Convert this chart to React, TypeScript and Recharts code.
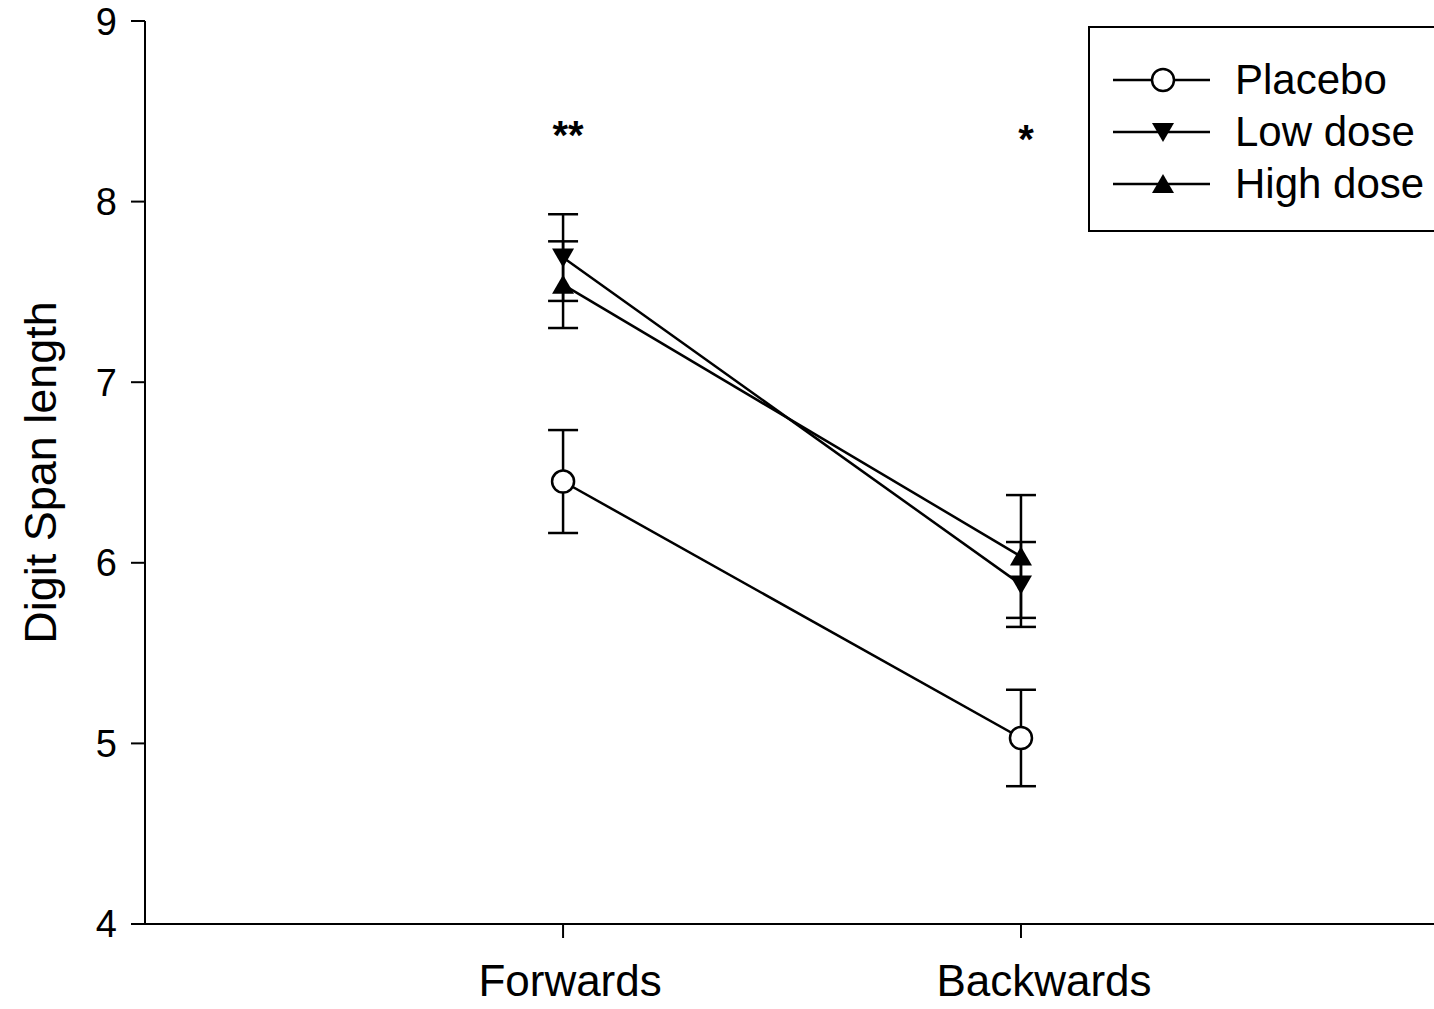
import { LineChart, Line, XAxis, YAxis, ErrorBar, ReferenceDot } from "recharts";

const conditions = ["Forwards", "Backwards"];
const placebo = [6.45, 5.03];
const placeboSem = [0.285, 0.267];
const lowDose = [7.69, 5.88];
const lowDoseSem = [0.24, 0.235];
const highDose = [7.54, 6.035];
const highDoseSem = [0.24, 0.34];
const significance = ["**", "*"];
const significanceLevel = [8.37, 8.35];
const yTicks = [4, 5, 6, 7, 8, 9];
const legendLabels = ["Placebo", "Low dose", "High dose"];

const FONT = "'Liberation Sans', Arial, Helvetica, sans-serif";

const data = conditions.map((name, i) => ({
  pos: i + 1,
  name,
  placebo: placebo[i],
  placeboSem: placeboSem[i],
  low: lowDose[i],
  lowSem: lowDoseSem[i],
  high: highDose[i],
  highSem: highDoseSem[i],
}));

// markers
function OpenCircle({ cx, cy }: any) {
  return <circle cx={cx} cy={cy} r={11} fill="#fff" stroke="#000" strokeWidth={2.5} />;
}

function TriangleDown({ cx, cy }: any) {
  return <path d={`M${cx - 11},${cy - 9} L${cx + 11},${cy - 9} L${cx},${cy + 10} Z`} fill="#000" />;
}

function TriangleUp({ cx, cy }: any) {
  return <path d={`M${cx - 11},${cy + 9} L${cx + 11},${cy + 9} L${cx},${cy - 10} Z`} fill="#000" />;
}

const markers = [OpenCircle, TriangleDown, TriangleUp];

function XTick({ x, y, payload, index }: any) {
  // labels sit a little right of the tick in the original figure
  const nudge = [7, 23][index] ?? 0;
  return (
    <text x={x + nudge} y={y} dy="0.71em" textAnchor="middle" fontSize={44} fontFamily={FONT} fill="#000">
      {conditions[payload.value - 1]}
    </text>
  );
}

function YLabel({ viewBox }: any) {
  const cy = viewBox.y + viewBox.height / 2;
  return (
    <text
      x={40}
      y={cy}
      transform={`rotate(-90, 40, ${cy})`}
      textAnchor="middle"
      dominantBaseline="central"
      fontSize={45}
      fontFamily={FONT}
      fill="#000"
    >
      Digit Span length
    </text>
  );
}

function LegendBox() {
  return (
    <div
      style={{
        position: "absolute",
        left: 1088,
        top: 26,
        width: 360,
        height: 206,
        border: "2px solid #000",
        boxSizing: "border-box",
        paddingTop: 26,
        fontFamily: FONT,
      }}
    >
      {legendLabels.map((label, i) => {
        const Marker = markers[i];
        return (
          <div key={label} style={{ display: "flex", alignItems: "center", height: 52 }}>
            <svg width={97} height={30} style={{ marginLeft: 23, marginRight: 25 }}>
              <line x1={0} y1={15} x2={97} y2={15} stroke="#000" strokeWidth={2.5} />
              <Marker cx={50} cy={15} />
            </svg>
            <span style={{ fontSize: 42, color: "#000", whiteSpace: "nowrap" }}>{label}</span>
          </div>
        );
      })}
    </div>
  );
}

export default function App() {
  const axisStyle = { stroke: "#000", strokeWidth: 2 };
  return (
    <div
      style={{
        position: "absolute",
        left: 0,
        top: 0,
        width: 1434,
        height: 1009,
        overflow: "hidden",
        background: "#fff",
      }}
    >
      <LineChart width={1434} height={1009} data={data} margin={{ top: 21, right: 0, bottom: 0, left: 0 }}>
        <XAxis
          dataKey="pos"
          type="number"
          domain={[0.087, 2.902]}
          allowDataOverflow
          ticks={[1, 2]}
          height={85}
          tickSize={14}
          tickMargin={27}
          axisLine={axisStyle}
          tickLine={axisStyle}
          tick={<XTick />}
        />
        <YAxis
          type="number"
          domain={[4, 9]}
          ticks={yTicks}
          width={145}
          tickSize={14}
          tickMargin={14}
          axisLine={axisStyle}
          tickLine={axisStyle}
          tick={{ fontSize: 38, fontFamily: FONT, fill: "#000" }}
          label={<YLabel />}
        />
        <Line
          dataKey="placebo"
          stroke="#000"
          strokeWidth={2.5}
          isAnimationActive={false}
          dot={(p: any) => <OpenCircle key={`pl-${p.index}`} cx={p.cx} cy={p.cy} />}
        >
          <ErrorBar dataKey="placeboSem" width={15} stroke="#000" strokeWidth={2.5} direction="y" />
        </Line>
        <Line
          dataKey="low"
          stroke="#000"
          strokeWidth={2.5}
          isAnimationActive={false}
          dot={(p: any) => <TriangleDown key={`lo-${p.index}`} cx={p.cx} cy={p.cy} />}
        >
          <ErrorBar dataKey="lowSem" width={15} stroke="#000" strokeWidth={2.5} direction="y" />
        </Line>
        <Line
          dataKey="high"
          stroke="#000"
          strokeWidth={2.5}
          isAnimationActive={false}
          dot={(p: any) => <TriangleUp key={`hi-${p.index}`} cx={p.cx} cy={p.cy} />}
        >
          <ErrorBar dataKey="highSem" width={15} stroke="#000" strokeWidth={2.5} direction="y" />
        </Line>
        {significance.map((mark, i) => (
          <ReferenceDot
            key={mark + i}
            x={i + 1}
            y={significanceLevel[i]}
            r={0}
            stroke="none"
            label={{
              value: mark,
              position: "center",
              dx: 5,
              fontSize: 40,
              fontWeight: "bold",
              fill: "#000",
              fontFamily: FONT,
            }}
          />
        ))}
      </LineChart>
      <LegendBox />
    </div>
  );
}
